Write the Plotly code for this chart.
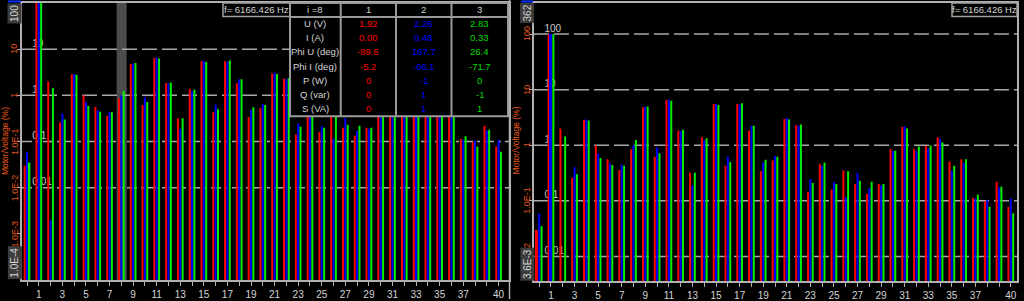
import math
import plotly.graph_objects as go

W, H = 1024, 301

# ---------------- data ----------------
harmonics = list(range(41))
red_pct = [0.030, 100, 2.0, 0.26, 2.87, 1.0, 0.56, 0.36, 0.85, 4.8, 0.62, 6.5, 1.85, 0.32, 1.39, 5.5,
           0.43, 5.5, 1.83, 0.34, 0.53, 2.96, 2.3, 0.143, 0.46, 0.16, 0.35, 0.20, 0.133, 0.20, 0.86,
           2.15, 0.85, 0.98, 1.39, 0.51, 0.56, 0.113, 0.098, 0.22, 0.078]
blue_pct = [0.059, 100, 0.002, 0.40, 2.9, 0.72, 0.47, 0.44, 1.0, 4.9, 0.91, 6.6, 1.8, 0.19, 1.25, 5.6,
            0.63, 5.4, 2.24, 0.49, 0.65, 3.1, 2.25, 0.247, 0.43, 0.215, 0.117, 0.32, 0.17, 0.19, 0.79,
            2.2, 0.79, 0.88, 1.29, 0.35, 0.48, 0.11, 0.105, 0.175, 0.11]
green_pct = [0.035, 100, 1.43, 0.30, 2.8, 0.59, 0.44, 0.43, 1.24, 5.0, 0.72, 6.3, 1.9, 0.32, 1.33, 5.3,
             0.50, 5.7, 2.24, 0.55, 0.62, 2.9, 2.35, 0.21, 0.49, 0.20, 0.34, 0.23, 0.22, 0.20, 0.80,
             2.0, 0.95, 0.99, 1.13, 0.43, 0.56, 0.13, 0.078, 0.18, 0.06]

x_tick_vals = [1, 3, 5, 7, 9, 11, 13, 15, 17, 19, 21, 23, 25, 27, 29, 31, 33, 35, 37, 40]
x_tick_text = [str(v) for v in x_tick_vals]

left_y_ticks = [10, 1, 0.1, 0.01, 0.001]
left_y_text = ["10", "1", "1.0E-1", "1.0E-2", "1.0E-3"]
left_y_min, left_y_max = 1e-4, 100
left_min_text, left_max_text = "1.0E-4", "100"

right_y_ticks = [100, 10, 1, 0.1, 0.01]
right_y_text = ["100", "10", "1", "1.0E-1", "1.0E-2"]
right_y_min, right_y_max = 3.6e-3, 362
right_min_text, right_max_text = "3.6E-3", "362"

grid_left = [10, 1, 0.1, 0.01]
grid_left_text = ["10", "1", "0.1", "0.01"]
grid_right = [100, 10, 1, 0.1, 0.01]
grid_right_text = ["100", "10", "1", "0.1", "0.01"]

y_title = "Motor/Voltage (%)"
selected_h = 8
freq_text = "f= 6166.426 Hz"
table_header = ["i =8", "1", "2", "3"]
row_labels = ["U (V)", "I (A)", "Phi U (deg)", "Phi I (deg)", "P (W)", "Q (var)", "S (VA)"]
phase1_vals = ["1.92", "0.00", "-89.6", "-5.2", "0", "0", "0"]
phase2_vals = ["2.26", "0.48", "167.7", "-66.1", "-1", "1", "1"]
phase3_vals = ["2.83", "0.33", "26.4", "-71.7", "0", "-1", "1"]

# ---------------- style ----------------
FONT = "Liberation Sans, Arial, sans-serif"
ORANGE = "#e8581c"
GREY = "#b0b0b0"
LIGHT = "#d4d4d4"
C_RED, C_BLUE, C_GREEN = "#ff0000", "#0000ff", "#00ee00"
PH_COLORS = [C_RED, C_BLUE, C_GREEN]
TXT_COLORS = ["#ff0000", "#0000ff", "#00dd00"]


def px(x):
    return x / W


def py(y):
    return 1 - y / H


fig = go.Figure()

# gridline labels (base subplots, drawn beneath bars)
fig.add_trace(go.Scatter(x=[0.45] * len(grid_left), y=grid_left, text=grid_left_text, mode="text",
                         textposition="top right", textfont=dict(color="#c8c8c8", size=10, family=FONT),
                         xaxis="x", yaxis="y", showlegend=False, hoverinfo="skip", cliponaxis=False))
fig.add_trace(go.Scatter(x=[0.45] * len(grid_right), y=grid_right, text=grid_right_text, mode="text",
                         textposition="top right", textfont=dict(color="#c8c8c8", size=10, family=FONT),
                         xaxis="x2", yaxis="y2", showlegend=False, hoverinfo="skip", cliponaxis=False))

# bars (overlay subplots, on top)
for vals, col in zip([red_pct, blue_pct, green_pct], PH_COLORS):
    fig.add_trace(go.Bar(x=harmonics, y=vals, marker=dict(color=col, line=dict(width=0)),
                         xaxis="x3", yaxis="y3", showlegend=False))
for vals, col in zip([red_pct, blue_pct, green_pct], PH_COLORS):
    fig.add_trace(go.Bar(x=harmonics, y=vals, marker=dict(color=col, line=dict(width=0)),
                         xaxis="x4", yaxis="y4", showlegend=False))

xr_left = [(22 - 27) / 11.79, (509 - 27) / 11.79]
xr_right = [(534 - 539.2) / 11.79, (1017 - 539.2) / 11.79]
yr_left = [math.log10(left_y_min), math.log10(left_y_max)]
yr_right = [math.log10(right_y_min), math.log10(right_y_max)]
dom_x_left = [px(22), px(509)]
dom_x_right = [px(534), px(1017)]
dom_y_left = [py(282), py(3)]
dom_y_right = [py(283), py(3)]

xaxis_common = dict(showgrid=False, zeroline=False, showline=True, linecolor=GREY, linewidth=1.5,
                    mirror=True, ticks="outside", ticklen=4, tickcolor=GREY, tickwidth=1,
                    tickvals=x_tick_vals, ticktext=x_tick_text,
                    tickfont=dict(color=LIGHT, size=10, family=FONT),
                    minor=dict(tickvals=harmonics, ticks="outside", ticklen=4, tickcolor=GREY, tickwidth=1))
yaxis_common = dict(type="log", showgrid=False, zeroline=False, showline=True, linecolor=GREY,
                    linewidth=1.5, mirror=True, ticks="outside", ticklen=3, tickcolor=GREY,
                    showticklabels=False)

fig.update_layout(
    width=W, height=H, margin=dict(l=0, r=0, t=0, b=0),
    paper_bgcolor="black", plot_bgcolor="black",
    barmode="group", bargap=0.4, bargroupgap=0.15,
    font=dict(family=FONT, color=LIGHT),
    xaxis=dict(domain=dom_x_left, range=xr_left, anchor="y", **xaxis_common),
    yaxis=dict(domain=dom_y_left, range=yr_left, anchor="x", tickvals=left_y_ticks, **yaxis_common),
    xaxis2=dict(domain=dom_x_right, range=xr_right, anchor="y2", **xaxis_common),
    yaxis2=dict(domain=dom_y_right, range=yr_right, anchor="x2", tickvals=right_y_ticks, **yaxis_common),
    xaxis3=dict(overlaying="x", range=xr_left, anchor="y3", visible=False),
    yaxis3=dict(overlaying="y", type="log", range=yr_left, anchor="x3", visible=False),
    xaxis4=dict(overlaying="x2", range=xr_right, anchor="y4", visible=False),
    yaxis4=dict(overlaying="y2", type="log", range=yr_right, anchor="x4", visible=False),
)

shapes = []
# selected harmonic band
shapes.append(dict(type="rect", xref="x", yref="y domain", x0=selected_h - 0.4, x1=selected_h + 0.45,
                   y0=0, y1=1, fillcolor="#4c4c4c", line=dict(width=0), layer="below"))
# gridlines
LONG = "15px,5px"
DASHDOT = "10px,4px,3px,4px"
for v in grid_left:
    shapes.append(dict(type="line", xref="x domain", yref="y", x0=0, x1=1, y0=v, y1=v,
                       line=dict(color="#a8a8a8", width=1.5, dash=LONG if v >= 1 else DASHDOT),
                       layer="below"))
for v in grid_right:
    shapes.append(dict(type="line", xref="x2 domain", yref="y2", x0=0, x1=1, y0=v, y1=v,
                       line=dict(color="#a8a8a8", width=1.5, dash=LONG), layer="below"))

# panel divider
shapes.append(dict(type="line", xref="paper", yref="paper", x0=px(509.5), x1=px(509.5), y0=0, y1=1,
                   line=dict(color=GREY, width=1.5), layer="above"))
# blue marks above top boxes
for x0, x1 in [(8, 21), (521, 533)]:
    shapes.append(dict(type="line", xref="paper", yref="paper", x0=px(x0), x1=px(x1), y0=py(1.5), y1=py(1.5),
                       line=dict(color="#0030ff", width=2), layer="above"))

# frequency boxes
for x0, x1 in [(223, 290), (952, 1017)]:
    shapes.append(dict(type="rect", xref="paper", yref="paper", x0=px(x0), x1=px(x1), y0=py(16.5), y1=py(3),
                       fillcolor="black", line=dict(color="#a0a0a0", width=1.5), layer="above"))

# table
TX0, TX1, TY0, TY1 = 290, 508, 3, 117
col_edges = [290, 340.7, 396, 451.5, 508]
shapes.append(dict(type="rect", xref="paper", yref="paper", x0=px(TX0), x1=px(TX1), y0=py(TY1), y1=py(TY0),
                   fillcolor="black", line=dict(color="#9a9a9a", width=2), layer="above"))
shapes.append(dict(type="line", xref="paper", yref="paper", x0=px(TX0), x1=px(TX1), y0=py(17), y1=py(17),
                   line=dict(color="#9a9a9a", width=2), layer="above"))
for cx in col_edges[1:-1]:
    shapes.append(dict(type="line", xref="paper", yref="paper", x0=px(cx), x1=px(cx), y0=py(TY1), y1=py(TY0),
                       line=dict(color="#9a9a9a", width=2), layer="above"))

fig.update_layout(shapes=shapes)

ann = []


def A(**kw):
    d = dict(showarrow=False, xanchor="center", yanchor="middle")
    d.update(kw)
    ann.append(d)


# y tick labels
for vals, texts, xc, yref in [(left_y_ticks, left_y_text, 14.5, "y"), (right_y_ticks, right_y_text, 527, "y2")]:
    for v, t in zip(vals, texts):
        A(xref="paper", yref=yref, x=px(xc), y=math.log10(v), text=t, textangle=-90,
          font=dict(color=ORANGE, size=9, family=FONT))
# axis titles
for xc in [5, 516.5]:
    A(xref="paper", yref="paper", x=px(xc), y=py(142), text=y_title, textangle=-90,
      font=dict(color=ORANGE, size=8.5, family=FONT))
# boxed extreme labels
for xc, yref, vmax, tmax, vmin, tmin in [(14.5, "y", left_y_max, left_max_text, left_y_min, left_min_text),
                                         (527, "y2", right_y_max, right_max_text, right_y_min, right_min_text)]:
    A(xref="paper", yref=yref, x=px(xc), y=math.log10(vmax), yanchor="top", text=tmax,
      textangle=-90, bgcolor="#3c3c3c", borderpad=1, font=dict(color=LIGHT, size=10, family=FONT))
    A(xref="paper", yref=yref, x=px(xc), y=math.log10(vmin), yanchor="bottom", text=tmin,
      textangle=-90, bgcolor="#3c3c3c", borderpad=1, font=dict(color=LIGHT, size=10, family=FONT))
# frequency text
for xc in [256.5, 984.5]:
    A(xref="paper", yref="paper", x=px(xc), y=py(9.8), text=freq_text,
      font=dict(color=LIGHT, size=9.5, family=FONT))
# table text
col_centers = [(col_edges[i] + col_edges[i + 1]) / 2 for i in range(4)]
for c, t in zip(col_centers, table_header):
    A(xref="paper", yref="paper", x=px(c), y=py(10), text=t, font=dict(color=LIGHT, size=9.5, family=FONT))
row_y = [23.3 + 14.4 * i for i in range(len(row_labels))]
for i, lab in enumerate(row_labels):
    A(xref="paper", yref="paper", x=px(col_centers[0]), y=py(row_y[i]), text=lab,
      font=dict(color=LIGHT, size=9.5, family=FONT))
    for j, (vals, col) in enumerate(zip([phase1_vals, phase2_vals, phase3_vals], TXT_COLORS)):
        A(xref="paper", yref="paper", x=px(col_centers[j + 1]), y=py(row_y[i]), text=vals[i],
          font=dict(color=col, size=9.5, family=FONT))

fig.update_layout(annotations=ann)
fig.write_html("out.html")
